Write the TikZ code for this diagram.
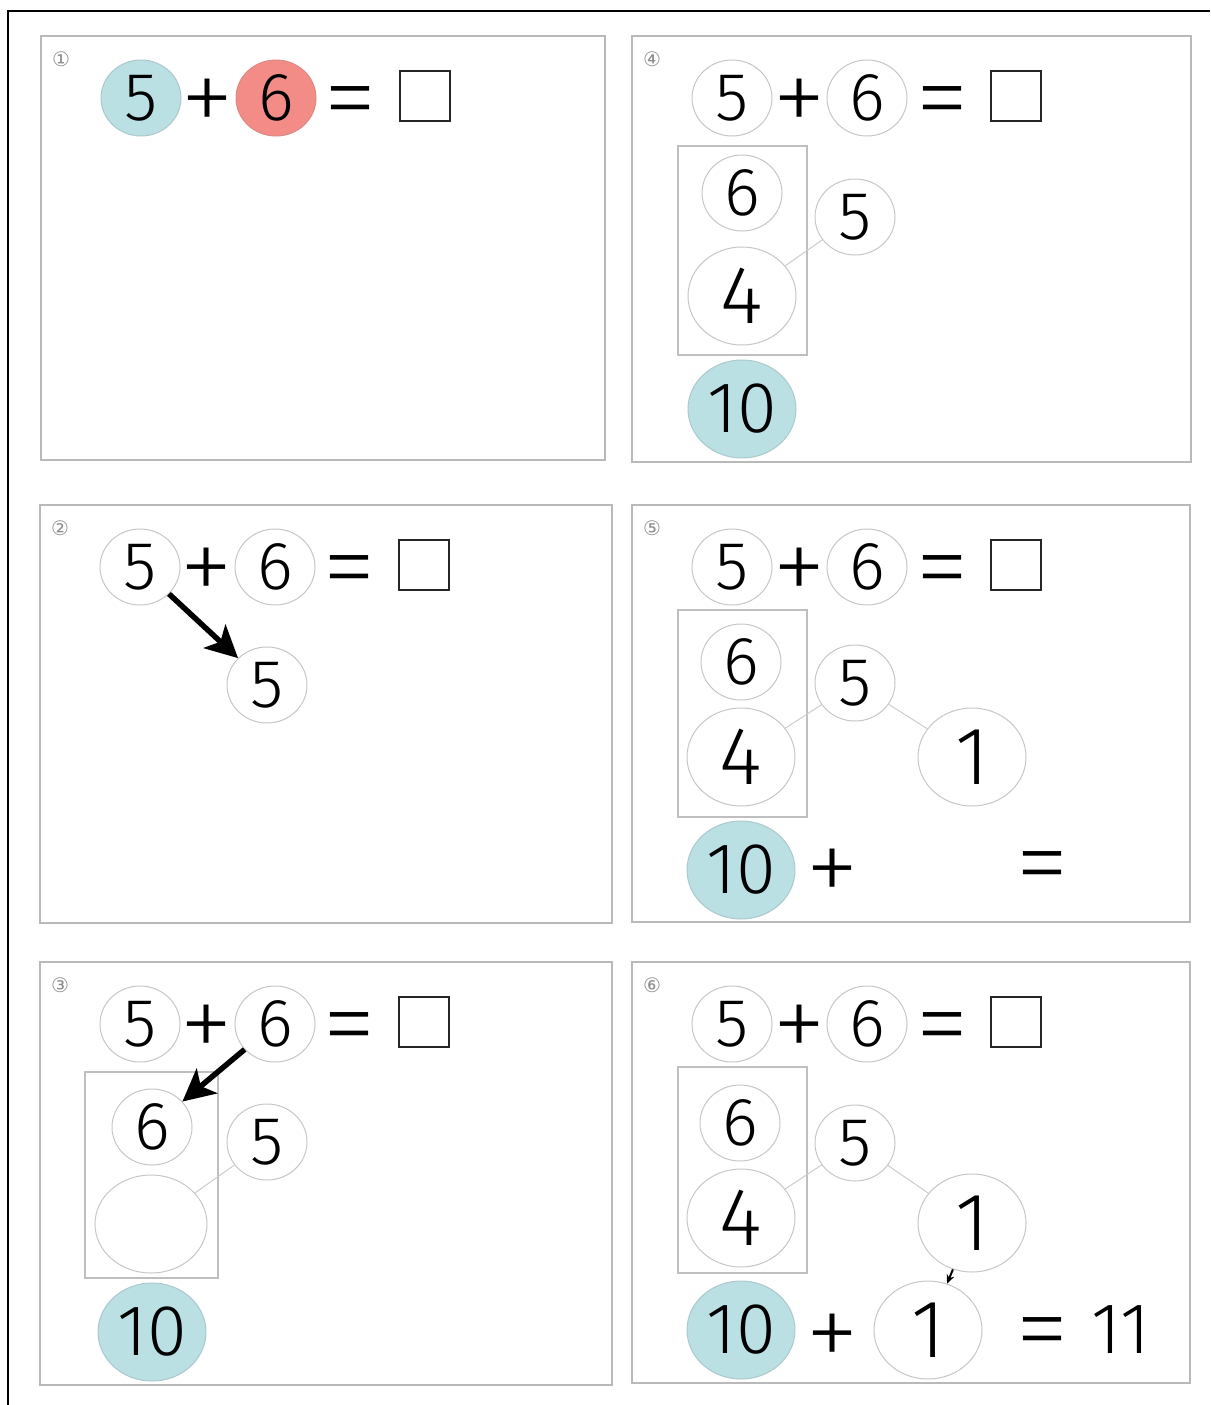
\documentclass[tikz,border=0pt]{standalone}
\usepackage{fontspec}
\setmainfont{Fira Sans}[UprightFont=* Light]
\newfontfamily\thinfont{Fira Sans}[UprightFont=* ExtraLight]
\newfontfamily\circfont{DejaVu Sans}
\usetikzlibrary{arrows.meta,shapes.geometric}
\definecolor{tenblue}{RGB}{186,224,228}
\definecolor{sixred}{RGB}{243,140,134}
\tikzset{
  num/.style={ellipse,draw=gray!45,line width=1pt,inner sep=0pt,minimum width=80pt,minimum height=76pt,font=\fontsize{68}{68}\selectfont},
  big/.style={num,minimum width=108pt,minimum height=98pt,font=\fontsize{82}{82}\selectfont},
  ten/.style={big,fill=tenblue,draw=tenblue!75!gray,font=\fontsize{72}{72}\selectfont},
  fivefill/.style={num,fill=tenblue,draw=tenblue!75!gray},
  sixfill/.style={num,fill=sixred,draw=sixred!80!gray},
  sym/.style={inner sep=0pt,anchor=base,font=\thinfont\fontsize{110}{110}\selectfont},
  ansbox/.style={draw=black!85,line width=2pt,minimum size=50pt,inner sep=0pt},
  panel/.style={draw=gray!55,line width=1.6pt},
  part/.style={draw=gray!50,line width=1.3pt},
  link/.style={draw=gray!40,line width=1pt},
  bigarrow/.style={-{Stealth[length=32pt,width=32pt,inset=8pt]},line width=5.5pt},
  tag/.style={text=gray!90,inner sep=0pt,font=\circfont\fontsize{20}{20}\selectfont}
}
\begin{document}
\begin{tikzpicture}[x=1pt,y=-1pt]
\useasboundingbox (0,0) rectangle (1210,1405);
\draw[line width=2pt](8,1405)--(8,11)--(1210,11);
% panels and the sum on top of each
\foreach \n/\x/\y/\X/\Y/\t/\sa/\sb in {p1/41/36/605/460/①/fivefill/sixfill,p2/40/505/612/923/②/num/num,p3/40/962/612/1385/③/num/num,p4/632/36/1191/462/④/num/num,p5/632/505/1190/922/⑤/num/num,p6/632/962/1190/1383/⑥/num/num}{
  \draw[panel](\x,\y) rectangle (\X,\Y);
  \node[tag] (\n-tag) at (\x+20,\y+23) {\t};
  \node[\sa] (\n-five) at (\x+100,\y+62) {5};
  \node[sym] (\n-plus) at (\x+167,\y+98) {+};
  \node[\sb] (\n-six) at (\x+235,\y+62) {6};
  \node[sym] (\n-eq) at (\x+310,\y+98) {=};
  \node[ansbox] (\n-ans) at (\x+384,\y+60) {};
}
% 2
\node[num] (p2-low) at (267,685) {5};
\draw[bigarrow](p2-five)--(p2-low);
% 3
\draw[part](85,1072) rectangle (218,1278);
\node[num] (p3-p6) at (152,1127) {6};
\node[num] (p3-p5) at (267,1142) {5};
\node[big,minimum width=112pt] (p3-blank) at (151,1224) {};
\node[ten] (p3-ten) at (152,1332) {10};
\draw[link](p3-blank)--(p3-p5);
\draw[bigarrow](p3-six)--(p3-p6);
% 4
\draw[part](678,146) rectangle (807,355);
\node[num] (p4-p6) at (742,193) {6};
\node[num] (p4-p5) at (855,217) {5};
\node[big] (p4-four) at (742,296) {4};
\node[ten] (p4-ten) at (742,409) {10};
\draw[link](p4-four)--(p4-p5);
% 5
\draw[part](678,610) rectangle (807,817);
\node[num] (p5-p6) at (741,662) {6};
\node[num] (p5-p5) at (855,683) {5};
\node[big] (p5-four) at (741,757) {4};
\node[big] (p5-one) at (972,757) {1};
\node[ten] (p5-ten) at (741,870) {10};
\node[sym] (p5-plus) at (832,904) {+};
\node[sym] (p5-eq) at (1042,899) {=};
\draw[link](p5-four)--(p5-p5);
\draw[link](p5-p5)--(p5-one);
% 6
\draw[part](678,1067) rectangle (807,1273);
\node[num] (p6-p6) at (740,1123) {6};
\node[num] (p6-p5) at (855,1143) {5};
\node[big] (p6-four) at (741,1218) {4};
\node[big] (p6-one) at (972,1223) {1};
\node[ten] (p6-ten) at (741,1330) {10};
\node[sym] (p6-plus) at (832,1369) {+};
\node[big] (p6-low) at (928,1330) {1};
\node[sym] (p6-eq) at (1042,1365) {=};
\node[sym,anchor=center,font=\fontsize{72}{72}\selectfont] (p6-sum) at (1121,1330) {11};
\draw[link](p6-four)--(p6-p5);
\draw[link](p6-p5)--(p6-one);
\draw[-{Stealth[length=9pt,width=8pt]},line width=2pt](p6-one)--(p6-low);
\end{tikzpicture}
\end{document}
